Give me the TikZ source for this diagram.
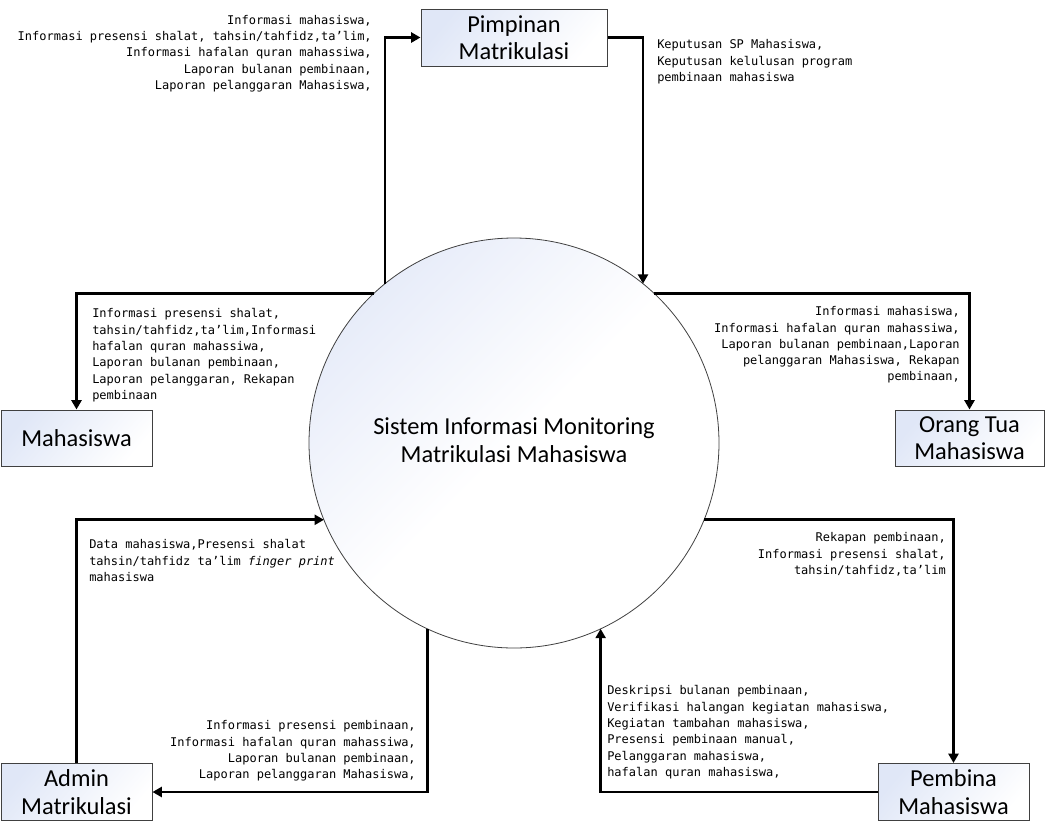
\documentclass[tikz,border=0pt]{standalone}
\usepackage{fontspec}
\setmainfont{Carlito}
\newfontfamily\lblfont{DejaVu Sans Mono}
\usetikzlibrary{arrows.meta}
\definecolor{boxblue}{RGB}{224,231,247}
\definecolor{cblue}{RGB}{231,236,249}
\definecolor{edgegray}{RGB}{64,64,64}
\begin{document}
\begin{tikzpicture}[x=0.75pt,y=-0.75pt,
  entity/.style={draw=edgegray, line width=0.75pt, top color=boxblue, bottom color=white,
    shading angle=50, inner sep=0pt, align=center, font=\fontsize{18.3}{20.5}\selectfont},
  flow/.style={line width=2.2pt, -{Triangle[length=7pt,width=7.5pt]}},
  lbl/.style={font=\lblfont\fontsize{9}{12.2}\selectfont, inner sep=0pt}]
\useasboundingbox (0,0) rectangle (1047,833);

% entities
\node[entity, minimum width=139.5pt, minimum height=42.75pt] (pim) at (514,37.5) {Pimpinan\\Matrikulasi};
\node[entity, minimum width=113.25pt, minimum height=42pt] (mhs) at (76.5,438) {Mahasiswa};
\node[entity, minimum width=111.75pt, minimum height=42pt] (ortu) at (969.5,438) {Orang Tua\\Mahasiswa};
\node[entity, minimum width=113.25pt, minimum height=42.75pt] (adm) at (76.5,792) {Admin\\Matrikulasi};
\node[entity, minimum width=113.25pt, minimum height=42.75pt] (pem) at (953.5,792) {Pembina\\Mahasiswa};

% process
\node[circle, draw=edgegray, line width=0.6pt, minimum size=307.5pt, inner sep=0pt, outer sep=0pt,
  top color=cblue, bottom color=white, middle color=white, shading angle=45,
  align=center, font=\fontsize{18.3}{21}\selectfont] (sys) at (514,443)
  {\raisebox{3pt}{\begin{tabular}{@{}c@{}}Sistem Informasi Monitoring\\[-0.5pt]Matrikulasi Mahasiswa\end{tabular}}};

% flows
\draw[flow] (sys.129.4) |- (pim.west);
\draw[flow] (pim.east) -| (sys.51);
\draw[flow] (sys.133.4) -| (mhs.north);
\draw[flow] (sys.47) -| (ortu.north);
\draw[flow] (adm.north) |- (sys.202.1);
\draw[flow] (sys.245.2) |- (adm.east);
\draw[flow] (sys.-22.1) -| (pem.north);
\draw[flow] (pem.west) -| (sys.-65.5);

% labels
\node[lbl, anchor=north east, align=right] (l1) at (372,15)
  {Informasi mahasiswa,\\Informasi presensi shalat, tahsin/tahfidz,ta’lim,\\Informasi hafalan quran mahassiwa,\\Laporan bulanan pembinaan,\\Laporan pelanggaran Mahasiswa,};
\node[lbl, anchor=north west, align=left] (l2) at (657,39.5)
  {Keputusan SP Mahasiswa,\\Keputusan kelulusan program\\pembinaan mahasiswa};
\node[lbl, anchor=north west, align=left] (l3) at (92,308.5)
  {Informasi presensi shalat,\\tahsin/tahfidz,ta’lim,Informasi\\hafalan quran mahassiwa,\\Laporan bulanan pembinaan,\\Laporan pelanggaran, Rekapan\\pembinaan};
\node[lbl, anchor=north east, align=right] (l4) at (960,306.5)
  {Informasi mahasiswa,\\Informasi hafalan quran mahassiwa,\\Laporan bulanan pembinaan,Laporan\\pelanggaran Mahasiswa, Rekapan\\pembinaan,};
\node[lbl, anchor=north west, align=left] (l5) at (89,539.5)
  {Data mahasiswa,Presensi shalat\\tahsin/tahfidz ta’lim {\itshape finger print}\\mahasiswa};
\node[lbl, anchor=north east, align=right] (l6) at (416,720.5)
  {Informasi presensi pembinaan,\\Informasi hafalan quran mahassiwa,\\Laporan bulanan pembinaan,\\Laporan pelanggaran Mahasiswa,};
\node[lbl, anchor=north east, align=right] (l7) at (946,532.5)
  {Rekapan pembinaan,\\Informasi presensi shalat,\\tahsin/tahfidz,ta’lim};
\node[lbl, anchor=north west, align=left] (l8) at (607,685.5)
  {Deskripsi bulanan pembinaan,\\Verifikasi halangan kegiatan mahasiswa,\\Kegiatan tambahan mahasiswa,\\Presensi pembinaan manual,\\Pelanggaran mahasiswa,\\hafalan quran mahasiswa,};
\end{tikzpicture}
\end{document}
